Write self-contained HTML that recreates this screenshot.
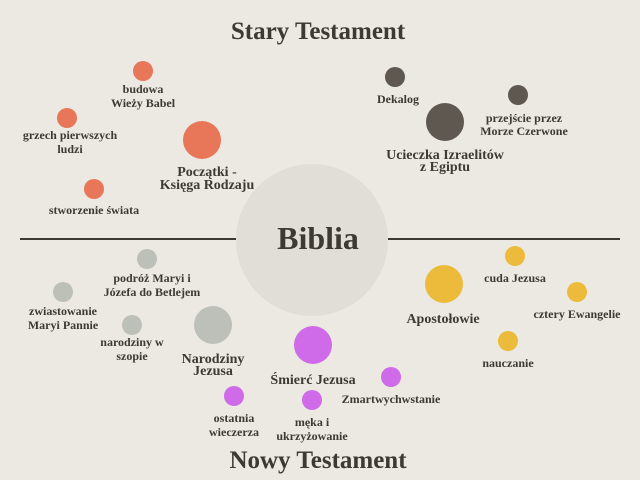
<!DOCTYPE html>
<html><head><meta charset="utf-8"><style>
html,body{margin:0;padding:0;background:#ebe9e2;}
svg{display:block}
text{font-family:"Liberation Serif",serif;font-weight:bold;fill:#3d3a35;text-anchor:middle}
.s{font-size:12px}
.m{font-size:14px}
</style></head><body>
<svg width="640" height="480" viewBox="0 0 640 480" xmlns="http://www.w3.org/2000/svg">
<rect width="640" height="480" fill="#ebe9e2"/>
<line x1="20" y1="239" x2="236" y2="239" stroke="#3d3a35" stroke-width="2"/>
<line x1="388" y1="239" x2="620" y2="239" stroke="#3d3a35" stroke-width="2"/>
<circle cx="312" cy="240" r="76" fill="#e0ded7"/>
<text x="318" y="39" style="font-size:25px">Stary Testament</text>
<text x="318" y="249" style="font-size:32px">Biblia</text>
<text x="318" y="468" style="font-size:25px">Nowy Testament</text>

<g fill="#e8775a">
<circle cx="143" cy="71" r="10"/><circle cx="67" cy="118" r="10"/>
<circle cx="94" cy="189" r="10"/><circle cx="202" cy="140" r="19"/>
</g>
<text class="s" x="143" y="93">budowa</text><text class="s" x="143" y="107">Wieży Babel</text>
<text class="s" x="70" y="139">grzech pierwszych</text><text class="s" x="70" y="153">ludzi</text>
<text class="s" x="94" y="214">stworzenie świata</text>
<text class="m" x="207" y="176">Początki -</text><text class="m" x="207" y="189">Księga Rodzaju</text>

<g fill="#5e5850">
<circle cx="395" cy="77" r="10"/><circle cx="445" cy="122" r="19"/><circle cx="518" cy="95" r="10"/>
</g>
<text class="s" x="398" y="103">Dekalog</text>
<text class="s" x="524" y="122">przejście przez</text><text class="s" x="524" y="135">Morze Czerwone</text>
<text class="m" x="445" y="159">Ucieczka Izraelitów</text><text class="m" x="445" y="171">z Egiptu</text>

<g fill="#bdc0b9">
<circle cx="147" cy="259" r="10"/><circle cx="63" cy="292" r="10"/>
<circle cx="132" cy="325" r="10"/><circle cx="213" cy="325" r="19"/>
</g>
<text class="s" x="152" y="282">podróż Maryi i</text><text class="s" x="152" y="296">Józefa do Betlejem</text>
<text class="s" x="63" y="315">zwiastowanie</text><text class="s" x="63" y="329">Maryi Pannie</text>
<text class="s" x="132" y="346">narodziny w</text><text class="s" x="132" y="360">szopie</text>
<text class="m" x="213" y="363">Narodziny</text><text class="m" x="213" y="375">Jezusa</text>

<g fill="#cf6ae8">
<circle cx="313" cy="345" r="19"/><circle cx="234" cy="396" r="10"/>
<circle cx="312" cy="400" r="10"/><circle cx="391" cy="377" r="10"/>
</g>
<text class="m" x="313" y="384">Śmierć Jezusa</text>
<text class="s" x="234" y="422">ostatnia</text><text class="s" x="234" y="436">wieczerza</text>
<text class="s" x="312" y="426">męka i</text><text class="s" x="312" y="440">ukrzyżowanie</text>
<text class="s" x="391" y="403">Zmartwychwstanie</text>

<g fill="#ecbb3c">
<circle cx="444" cy="284" r="19"/><circle cx="515" cy="256" r="10"/>
<circle cx="577" cy="292" r="10"/><circle cx="508" cy="341" r="10"/>
</g>
<text class="m" x="443" y="323">Apostołowie</text>
<text class="s" x="515" y="282">cuda Jezusa</text>
<text class="s" x="577" y="318">cztery Ewangelie</text>
<text class="s" x="508" y="367">nauczanie</text>
</svg>
</body></html>
